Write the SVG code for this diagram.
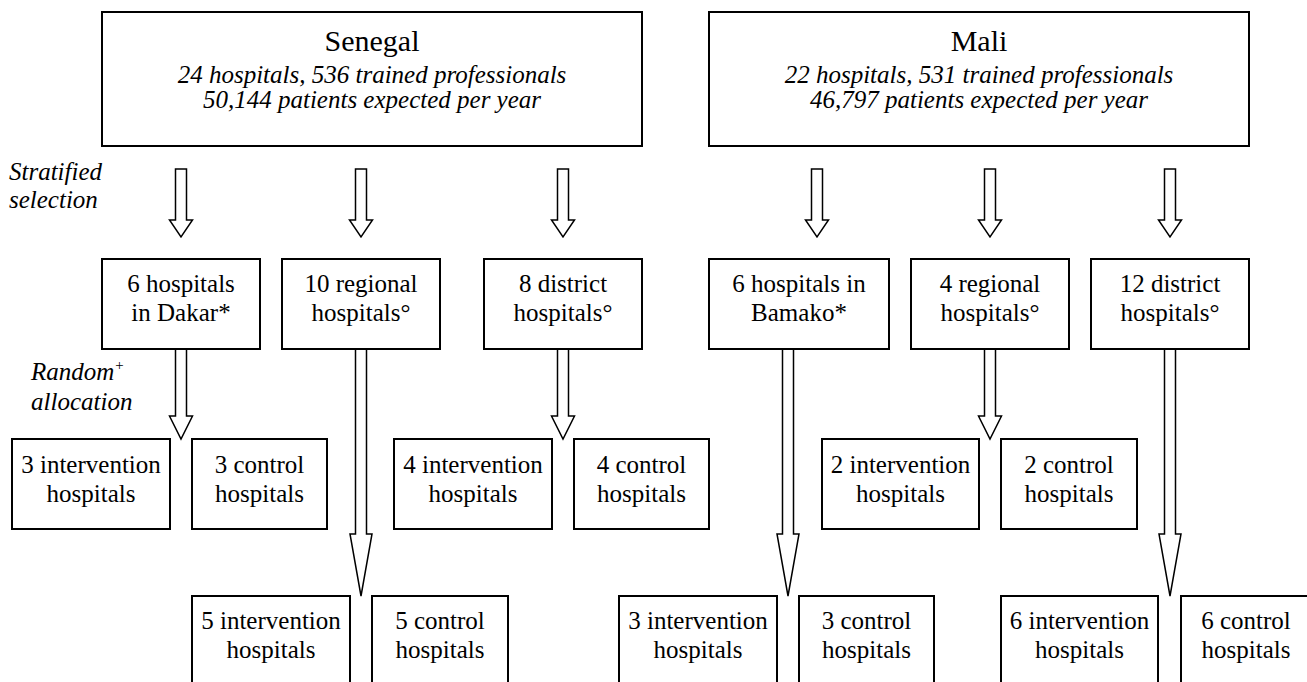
<svg xmlns="http://www.w3.org/2000/svg" width="1307" height="682" viewBox="0 0 1307 682" font-family="Liberation Serif, DejaVu Serif, Times New Roman, serif">
<style>
.box{fill:#fff;stroke:#000;stroke-width:2}
.arr{fill:#fff;stroke:#000;stroke-width:1.5;stroke-linejoin:miter}
.t{font-size:25px;text-anchor:middle;fill:#000}
.ti{font-size:25px;font-style:italic;text-anchor:middle;fill:#000}
.tt{font-size:30px;text-anchor:middle;fill:#000}
.lab{font-size:25px;font-style:italic;fill:#000}
</style>
<rect width="1307" height="682" fill="#fff"/>
<g id="connectors">
<polygon class="arr" points="175.5,169 186.5,169 186.5,220 192.5,220 181,237 169.5,220 175.5,220"/>
<polygon class="arr" points="355.5,169 366.5,169 366.5,220 372.5,220 361,237 349.5,220 355.5,220"/>
<polygon class="arr" points="557.5,169 568.5,169 568.5,220 574.5,220 563,237 551.5,220 557.5,220"/>
<polygon class="arr" points="811.5,169 822.5,169 822.5,220 828.5,220 817,237 805.5,220 811.5,220"/>
<polygon class="arr" points="984.5,169 995.5,169 995.5,220 1001.5,220 990,237 978.5,220 984.5,220"/>
<polygon class="arr" points="1164.5,169 1175.5,169 1175.5,220 1181.5,220 1170,237 1158.5,220 1164.5,220"/>
<polygon class="arr" points="175.5,349 186.5,349 186.5,416 192.5,416 181,439 169.5,416 175.5,416"/>
<polygon class="arr" points="557.5,349 568.5,349 568.5,416 574.5,416 563,439 551.5,416 557.5,416"/>
<polygon class="arr" points="984.5,349 995.5,349 995.5,416 1001.5,416 990,439 978.5,416 984.5,416"/>
<polygon class="arr" points="355.5,349 366.5,349 366.5,534 372,534 361,596 350,534 355.5,534"/>
<polygon class="arr" points="782.5,349 793.5,349 793.5,534 799,534 788,596 777,534 782.5,534"/>
<polygon class="arr" points="1164.5,349 1175.5,349 1175.5,534 1181,534 1170,596 1159,534 1164.5,534"/>
</g>
<g id="senegal">
<rect class="box" x="102" y="12" width="540" height="134"/>
<text class="tt" x="372" y="51">Senegal</text>
<text class="ti" x="372" y="83">24 hospitals, 536 trained professionals</text>
<text class="ti" x="372" y="108">50,144 patients expected per year</text>
</g>
<g id="mali">
<rect class="box" x="709" y="12" width="540" height="134"/>
<text class="tt" x="979" y="51">Mali</text>
<text class="ti" x="979" y="83">22 hospitals, 531 trained professionals</text>
<text class="ti" x="979" y="108">46,797 patients expected per year</text>
</g>
<g id="label-stratified">
<text class="lab" x="9" y="180">Stratified</text>
<text class="lab" x="9" y="208">selection</text>
</g>
<g id="label-random">
<text class="lab" x="31" y="380">Random<tspan font-size="15" dy="-10">+</tspan></text>
<text class="lab" x="31" y="410">allocation</text>
</g>
<g id="dakar">
<rect class="box" x="102" y="259" width="158" height="90"/>
<text class="t" x="181" y="292">6 hospitals</text>
<text class="t" x="181" y="321">in Dakar*</text>
</g>
<g id="sn-regional">
<rect class="box" x="282" y="259" width="158" height="90"/>
<text class="t" x="361" y="292">10 regional</text>
<text class="t" x="361" y="321">hospitals°</text>
</g>
<g id="sn-district">
<rect class="box" x="484" y="259" width="158" height="90"/>
<text class="t" x="563" y="292">8 district</text>
<text class="t" x="563" y="321">hospitals°</text>
</g>
<g id="bamako">
<rect class="box" x="709" y="259" width="180" height="90"/>
<text class="t" x="799" y="292">6 hospitals in</text>
<text class="t" x="799" y="321">Bamako*</text>
</g>
<g id="ml-regional">
<rect class="box" x="911" y="259" width="158" height="90"/>
<text class="t" x="990" y="292">4 regional</text>
<text class="t" x="990" y="321">hospitals°</text>
</g>
<g id="ml-district">
<rect class="box" x="1091" y="259" width="158" height="90"/>
<text class="t" x="1170" y="292">12 district</text>
<text class="t" x="1170" y="321">hospitals°</text>
</g>
<g id="dakar-int">
<rect class="box" x="12" y="439" width="158" height="90"/>
<text class="t" x="91" y="473">3 intervention</text>
<text class="t" x="91" y="502">hospitals</text>
</g>
<g id="dakar-ctl">
<rect class="box" x="192" y="439" width="135" height="90"/>
<text class="t" x="259.5" y="473">3 control</text>
<text class="t" x="259.5" y="502">hospitals</text>
</g>
<g id="sn-district-int">
<rect class="box" x="394" y="439" width="158" height="90"/>
<text class="t" x="473" y="473">4 intervention</text>
<text class="t" x="473" y="502">hospitals</text>
</g>
<g id="sn-district-ctl">
<rect class="box" x="574" y="439" width="135" height="90"/>
<text class="t" x="641.5" y="473">4 control</text>
<text class="t" x="641.5" y="502">hospitals</text>
</g>
<g id="ml-regional-int">
<rect class="box" x="822" y="439" width="157" height="90"/>
<text class="t" x="900.5" y="473">2 intervention</text>
<text class="t" x="900.5" y="502">hospitals</text>
</g>
<g id="ml-regional-ctl">
<rect class="box" x="1001" y="439" width="136" height="90"/>
<text class="t" x="1069" y="473">2 control</text>
<text class="t" x="1069" y="502">hospitals</text>
</g>
<g id="sn-regional-int">
<rect class="box" x="192" y="596" width="158" height="100"/>
<text class="t" x="271" y="629">5 intervention</text>
<text class="t" x="271" y="658">hospitals</text>
</g>
<g id="sn-regional-ctl">
<rect class="box" x="372" y="596" width="136" height="100"/>
<text class="t" x="440" y="629">5 control</text>
<text class="t" x="440" y="658">hospitals</text>
</g>
<g id="bamako-int">
<rect class="box" x="619" y="596" width="158" height="100"/>
<text class="t" x="698" y="629">3 intervention</text>
<text class="t" x="698" y="658">hospitals</text>
</g>
<g id="bamako-ctl">
<rect class="box" x="799" y="596" width="135" height="100"/>
<text class="t" x="866.5" y="629">3 control</text>
<text class="t" x="866.5" y="658">hospitals</text>
</g>
<g id="ml-district-int">
<rect class="box" x="1001" y="596" width="157" height="100"/>
<text class="t" x="1079.5" y="629">6 intervention</text>
<text class="t" x="1079.5" y="658">hospitals</text>
</g>
<g id="ml-district-ctl">
<rect class="box" x="1181" y="596" width="135" height="100"/>
<text class="t" x="1246" y="629">6 control</text>
<text class="t" x="1246" y="658">hospitals</text>
</g>
</svg>
